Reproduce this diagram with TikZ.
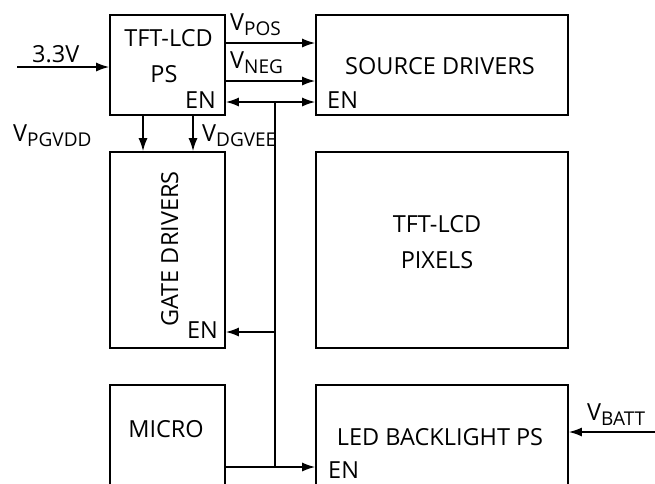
\documentclass[tikz,border=0pt]{standalone}
\usepackage{fontspec}
\setmainfont{Open Sans}
\usetikzlibrary{arrows.meta}
\newcommand{\vsub}[1]{V\raisebox{-5.5pt}{\fontsize{19}{22}\selectfont #1}}
\begin{document}
\begin{tikzpicture}[x=1pt,y=-1pt,
  box/.style={draw,line width=1.6pt,minimum width=#1,inner sep=0pt},
  lbl/.style={inner sep=0pt,font=\fontsize{23.5}{27}\selectfont},
  arr/.style={line width=1.6pt,-{Latex[length=13pt,width=9pt]}},
  arr2/.style={line width=1.6pt,{Latex[length=13pt,width=9pt]}-{Latex[length=13pt,width=9pt]}},
  wire/.style={line width=1.6pt}]
\useasboundingbox (0,0) rectangle (655,483);
\clip (0,0) rectangle (655,483);
% boxes
\node[box=115pt,minimum height=100pt] (ps) at (167.5,65) {};
\node[box=252pt,minimum height=100pt] (src) at (442,65) {};
\node[box=115pt,minimum height=196pt] (gate) at (167.5,250) {};
\node[box=252pt,minimum height=196pt] (pix) at (442,250) {};
\node[box=115pt,minimum height=130pt] (micro) at (167.5,450) {};
\node[box=252pt,minimum height=130pt] (led) at (442,450) {};
% texts
\node[lbl,anchor=base] (t1) at (168.5,46) {TFT-LCD};
\node[lbl,anchor=base] (t2) at (164,82) {PS};
\node[lbl,anchor=base east] (t3) at (216,108) {EN};
\node[lbl,anchor=base] (t4) at (440,74) {SOURCE DRIVERS};
\node[lbl,anchor=base west] (t5) at (327,108) {EN};
\node[lbl,anchor=base,rotate=90] (t6) at (178,249) {GATE DRIVERS};
\node[lbl,anchor=base east] (t7) at (218,338) {EN};
\node[lbl,anchor=base] (t8) at (437,232) {TFT-LCD};
\node[lbl,anchor=base] (t9) at (437,268) {PIXELS};
\node[lbl,anchor=base] (t10) at (166,437) {MICRO};
\node[lbl,anchor=base] (t11) at (440,445) {LED BACKLIGHT PS};
\node[lbl,anchor=base west] (t12) at (328,478) {EN};
% signal labels
\node[lbl,anchor=base west] (l33) at (32,62) {3.3V};
\node[lbl,anchor=base west] (lpos) at (230,30) {\vsub{POS}};
\node[lbl,anchor=base west] (lneg) at (230,68) {\vsub{NEG}};
\node[lbl,anchor=base west] (lpg) at (13,141) {\vsub{PGVDD}};
\node[lbl,anchor=base west] (ldg) at (202,141) {\vsub{DGVEE}};
\node[lbl,anchor=base west] (lbatt) at (587,420) {\vsub{BATT}};
% coordinates
\coordinate (in33) at (17,67);
\coordinate (ypos) at (0,43);
\coordinate (yneg) at (0,81);
\coordinate (bustop) at (275,102);
\coordinate (busbot) at (275,467);
\coordinate (ygen) at (275,332);
\coordinate (xpg) at (143,0);
\coordinate (xdg) at (193,0);
\coordinate (batt) at (655,432);
% connectors
\draw[arr] (in33) -- (ps.west |- in33);
\draw[arr] (ps.east |- ypos) -- (src.west |- ypos);
\draw[arr] (ps.east |- yneg) -- (src.west |- yneg);
\draw[arr2] (ps.east |- bustop) -- (src.west |- bustop);
\draw[wire] (bustop) -- (busbot);
\draw[arr] (ygen) -- (gate.east |- ygen);
\draw[arr] (micro.east |- busbot) -- (led.west |- busbot);
\draw[arr] (ps.south -| xpg) -- (gate.north -| xpg);
\draw[arr] (ps.south -| xdg) -- (gate.north -| xdg);
\draw[arr] (batt) -- (led.east |- batt);
\end{tikzpicture}
\end{document}
